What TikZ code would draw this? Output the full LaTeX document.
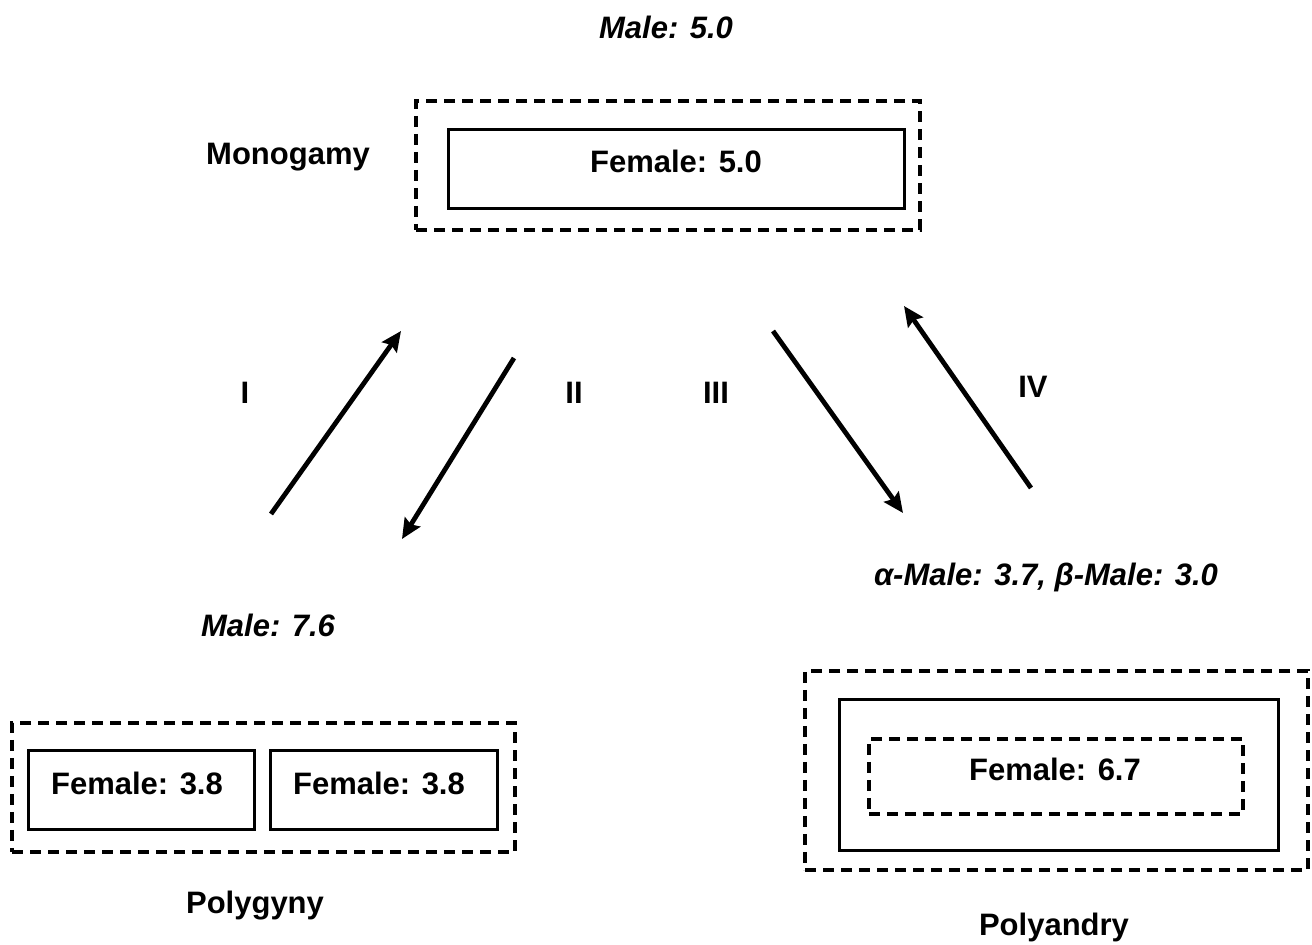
\documentclass[tikz,border=0pt]{standalone}
\usepackage{fontspec}
\setmainfont{Liberation Sans}
\usetikzlibrary{arrows.meta}
\tikzset{
  txt/.style={inner sep=0pt, font=\fontsize{15.5pt}{18pt}\selectfont\bfseries},
  itxt/.style={txt, font=\fontsize{15.5pt}{18pt}\selectfont\bfseries\itshape},
  solidbox/.style={draw=black, line width=1.5pt, inner sep=0pt},
  dashbox/.style={draw=black, line width=1.8pt, inner sep=0pt, dash pattern=on 5.5pt off 3.5pt},
  arr/.style={line width=2.4pt, -{Stealth[length=10pt,width=9pt,inset=1.5pt]}}
}
\begin{document}
\begin{tikzpicture}[x=0.5pt,y=-0.5pt]
\useasboundingbox (0,0) rectangle (1312,945);
% Monogamy
\node[dashbox, minimum width=252pt, minimum height=64.5pt] (monoout) at (668,165.5) {};
\node[solidbox, minimum width=228pt, minimum height=39.5pt] (monoin) at (676,169.5) {};
\node[txt] (monof) at (676,161) {Female: 5.0};
\node[itxt] (monom) at (666,27) {Male: 5.0};
\node[txt] (mono) at (288,157) {Monogamy};
% Polygyny
\node[dashbox, minimum width=251.5pt, minimum height=64.5pt] (pgout) at (263.5,787.5) {};
\node[solidbox, minimum width=113pt, minimum height=39.5pt] (pgin1) at (141,790.5) {};
\node[solidbox, minimum width=113.5pt, minimum height=39.5pt] (pgin2) at (383.5,790.5) {};
\node[txt] (pgf1) at (137,783) {Female: 3.8};
\node[txt] (pgf2) at (379,783) {Female: 3.8};
\node[itxt] (pgm) at (268,625) {Male: 7.6};
\node[txt] (pg) at (255,906) {Polygyny};
% Polyandry
\node[dashbox, minimum width=251.5pt, minimum height=99.5pt] (paout) at (1056.5,770.5) {};
\node[solidbox, minimum width=219.5pt, minimum height=75.5pt] (pamid) at (1058.5,775.5) {};
\node[dashbox, minimum width=187pt, minimum height=37.5pt] (pain) at (1056,776.5) {};
\node[txt] (paf) at (1055,769) {Female: 6.7};
\node[itxt] (pam) at (1046,577) {α-Male: 3.7, β-Male: 3.0};
\node[txt] (pa) at (1054,927) {Polyandry};
% Arrows
\coordinate (aIs) at (271,514);
\coordinate (aIe) at (401,331);
\coordinate (aIIs) at (514,358);
\coordinate (aIIe) at (402,539);
\coordinate (aIIIs) at (773,331);
\coordinate (aIIIe) at (903,513);
\coordinate (aIVs) at (1031,488);
\coordinate (aIVe) at (904,306);
\draw[arr] (aIs) -- (aIe);
\draw[arr] (aIIs) -- (aIIe);
\draw[arr] (aIIIs) -- (aIIIe);
\draw[arr] (aIVs) -- (aIVe);
\node[txt] (lI) at (245,393) {I};
\node[txt] (lII) at (574,393) {II};
\node[txt] (lIII) at (716,393) {III};
\node[txt] (lIV) at (1033,387) {IV};
\end{tikzpicture}
\end{document}
